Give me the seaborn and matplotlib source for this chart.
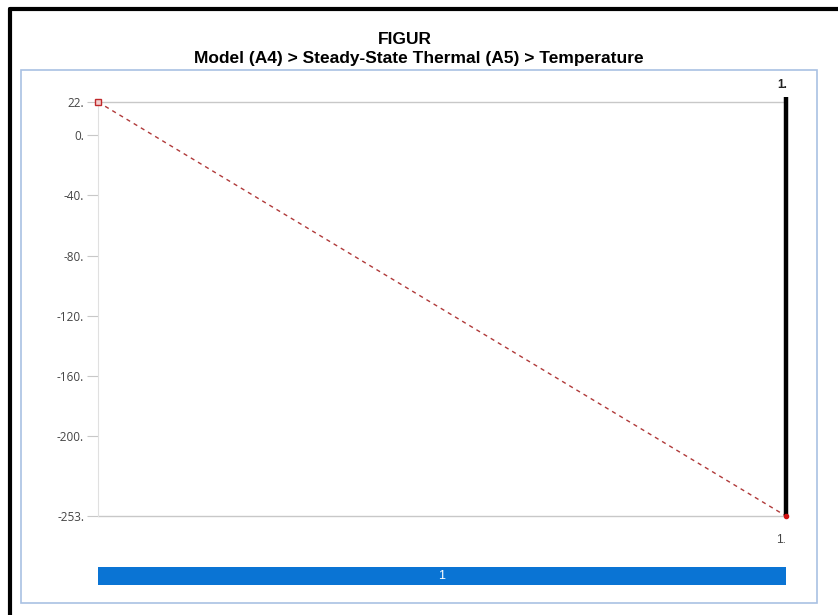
import matplotlib
matplotlib.use('Agg')
import matplotlib.pyplot as plt
from matplotlib.patches import Rectangle
import matplotlib.transforms as mtransforms
import pandas as pd
import seaborn as sns

sns.set_style('white')
plt.rcParams['font.family'] = ['Liberation Sans', 'DejaVu Sans']

# data
time = [0.0, 1.0]
temperature = [22.0, -253.0]
y_ticks = [22, 0, -40, -80, -120, -160, -200, -253]
y_tick_labels = ['22.', '0.', '-40.', '-80.', '-120.', '-160.', '-200.', '-253.']
cursor_time = 1.0
step_labels = ['1']

W, H = 838, 615
fig = plt.figure(figsize=(W / 100, H / 100), dpi=100)


def fbox(x0, y0, x1, y1):
    # pixel box -> figure fraction [left, bottom, width, height]
    return [x0 / W, 1 - y1 / H, (x1 - x0) / W, (y1 - y0) / H]


# outer black border (left + top)
fig.add_artist(plt.Line2D([10 / W, 10 / W], [0, 1 - 9 / H], color='black', lw=3))
fig.add_artist(plt.Line2D([10 / W, 1], [1 - 9 / H, 1 - 9 / H], color='black', lw=3))

# light blue frame
fig.add_artist(Rectangle((21 / W, 1 - 603 / H), (817 - 21) / W, (603 - 70) / H,
                         transform=fig.transFigure, fill=False, ec='#a9c1e3', lw=1.2))

fig.text(405 / W, 1 - 40 / H, 'FIGUR', ha='center', va='center', fontsize=12.5,
         fontweight='bold', color='black')
fig.text(419 / W, 1 - 59 / H, 'Model (A4) > Steady-State Thermal (A5) > Temperature',
         ha='center', va='center', fontsize=12.5, fontweight='bold', color='black')

# main chart
ax = fig.add_axes(fbox(98, 102, 786, 516))
df = pd.DataFrame({'Time': time, 'Temperature': temperature})
sns.lineplot(data=df, x='Time', y='Temperature', ax=ax, color='#b03a3a', lw=1,
             linestyle=(0, (3, 3)))
ax.plot(time[:1], temperature[:1], marker='s', ms=5, mfc='#f3d0d0', mec='#c0292b',
        ls='none', clip_on=False, zorder=5)
ax.plot(time[-1:], temperature[-1:], marker='o', ms=3, color='#d01010',
        ls='none', clip_on=False, zorder=5)
ax.set_xlim(time[0], time[-1])
ax.set_ylim(temperature[-1], temperature[0])
ax.axhline(temperature[0], color='#c8c8c8', lw=1, zorder=0, clip_on=False)
ax.axhline(temperature[-1], color='#c8c8c8', lw=1, zorder=0, clip_on=False)
ax.plot([cursor_time, cursor_time], [temperature[-1], temperature[0] + 3.5], color='black',
        lw=3.2, solid_capstyle='butt', clip_on=False, zorder=4)

for s in ['top', 'right', 'bottom']:
    ax.spines[s].set_visible(False)
ax.spines['left'].set_color('#e0e0e0')
ax.set_yticks(y_ticks)
ax.set_yticklabels(y_tick_labels, fontsize=8.5, color='#444444', family=['Open Sans', 'DejaVu Sans'])
ax.tick_params(axis='y', length=8, color='#c8c8c8', pad=2, left=True)
ax.set_xticks([])
ax.set_xlabel('')
ax.set_ylabel('')

trans = mtransforms.blended_transform_factory(ax.transData, fig.transFigure)
ax.text(cursor_time - 0.005, 1 - 85 / H, '1.', transform=trans, ha='center', va='center',
        fontsize=8.5, fontweight='bold', color='#222222')
ax.text(cursor_time - 0.008, 1 - 540 / H, '1.', transform=trans, ha='center', va='center',
        fontsize=8.5, color='#444444')

# step bar
ax2 = fig.add_axes(fbox(98, 567, 786, 585))
ax2.barh([0], [1], left=[0], height=1, color='#0a74d4', edgecolor='#0a74d4')
ax2.set_xlim(0, 1)
ax2.set_ylim(-0.5, 0.5)
ax2.text(0.5, 0, step_labels[0], ha='center', va='center', color='white', fontsize=9)
ax2.axis('off')

fig.savefig('out.png', dpi=100)
